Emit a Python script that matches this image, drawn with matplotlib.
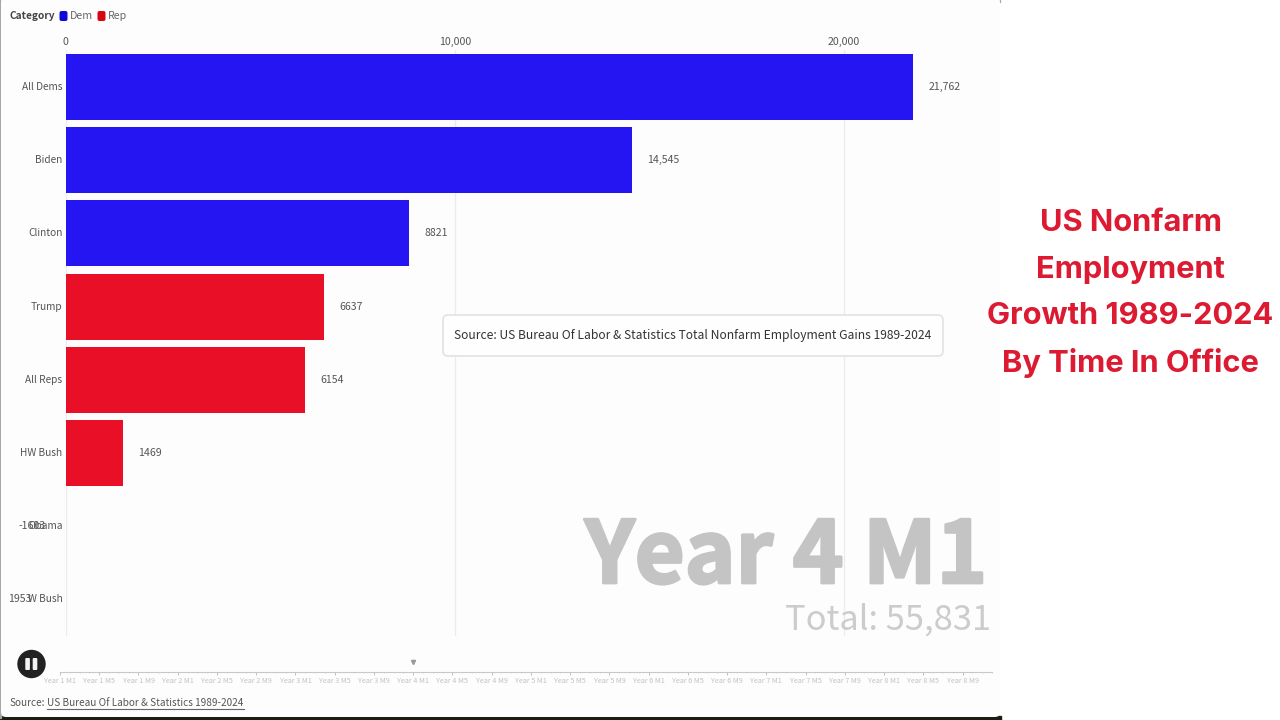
# -*- coding: utf-8 -*-

import matplotlib
matplotlib.use("Agg")
import matplotlib.pyplot as plt
import matplotlib.patheffects as pe
from matplotlib.patches import Rectangle, FancyBboxPatch, Circle
from matplotlib.transforms import ScaledTranslation

W, H = 1280, 720
plt.rcParams['font.family'] = ['Noto Sans CJK SC', 'DejaVu Sans']

names = ["All Dems", "Biden", "Clinton", "Trump", "All Reps", "HW Bush", "Obama", "W Bush"]
values = [21762, 14545, 8821, 6637, 6154, 1469, -1603, -1953]
value_labels = ["21,762", "14,545", "8821", "6637", "6154", "1469", "-1603", "1953"]
parties = ["Dem", "Dem", "Dem", "Rep", "Rep", "Rep", "Dem", "Rep"]
party_colors = {"Dem": "#2415f2", "Rep": "#e80f27"}
x_ticks = [0, 10000, 20000]
x_tick_labels = ["0", "10,000", "20,000"]

months = 96
current_month = 36
slider_labels = ["Year %d M%d" % (y, m) for y in range(1, 9) for m in (1, 5, 9)]

title_lines = ["US Nonfarm", "Employment", "Growth 1989-2024", "By Time In Office"]
title_y = [223, 270, 316, 363]


def px_axes(x0, y0, x1, y1, **kw):
    # axes placed by pixel box, y measured from the top
    return fig.add_axes([x0 / W, 1 - y1 / H, (x1 - x0) / W, (y1 - y0) / H], **kw)


fig = plt.figure(figsize=(W / 100, H / 100), dpi=100, facecolor="white")

# page furniture in pixel coordinates
bg = px_axes(0, 0, W, H, zorder=0)
bg.set_xlim(0, W)
bg.set_ylim(H, 0)
bg.axis("off")
bg.add_patch(Rectangle((0, 716), 1001, 4, color="#1c1c14"))
bg.add_patch(Rectangle((0, 0), 1000, 2, color="#a8a8a8"))
bg.add_patch(Rectangle((0, 0), 1.2, 718, color="#a4a8a2"))
bg.add_patch(FancyBboxPatch((5, 1), 991, 712, boxstyle="round,pad=4,rounding_size=5",
                            fc="#fdfdfd", ec="none"))

# bars
ax = px_axes(65.5, 50, 1000, 636, zorder=1)
ax.patch.set_alpha(0)
scale = 0.03893  # px per unit
ax.set_xlim(0, (1000 - 65.5) / scale)
ax.set_ylim(7.5, -0.505)
ypos = list(range(len(names)))
ax.barh(ypos, values, height=0.9, color=[party_colors[p] for p in parties], zorder=2)
for i, v in enumerate(values):
    if v >= 0:
        ax.annotate(value_labels[i], (v, i), xytext=(15.5, 0), textcoords="offset pixels",
                    ha="left", va="center", fontsize=7.6, color="#555555", annotation_clip=False)
    else:
        ax.annotate(value_labels[i], (v, i), xytext=(42.5, 0), textcoords="offset pixels",
                    ha="right", va="center", fontsize=7.6, color="#555555", annotation_clip=False)

for s in ax.spines.values():
    s.set_visible(False)
ax.xaxis.tick_top()
ax.set_xticks(x_ticks)
ax.set_xticklabels(x_tick_labels, fontsize=7.6, color="#555555")
ax.set_yticks(ypos)
ax.set_yticklabels(names, fontsize=7.3, color="#555555", va="center_baseline")
ax.tick_params(axis="both", length=0)
ax.tick_params(axis="x", pad=2)
ax.tick_params(axis="y", pad=2.2)
# nudge the row names up a pixel
nudge = ScaledTranslation(0, 1 / 100, fig.dpi_scale_trans)
for lab in ax.get_yticklabels():
    lab.set_transform(lab.get_transform() + nudge)
ax.grid(axis="x", color="#ececec", lw=0.9)
ax.set_axisbelow(True)

# time slider
tl = px_axes(60, 660, 992, 672, zorder=1)
tl.patch.set_alpha(0)
tl.set_xlim(0, months - 1)
tl.set_ylim(0, 1)
tl.set_yticks([])
for k in ("left", "right", "top"):
    tl.spines[k].set_visible(False)
tl.spines["bottom"].set_color("#c8c8c8")
tl.spines["bottom"].set_linewidth(0.8)
tl.set_xticks(list(range(0, months, 4)))
tl.set_xticklabels(slider_labels, fontsize=5.2, color="#c2c2c2")
tl.set_xticks(list(range(months)), minor=True)
tl.tick_params(axis="x", which="major", length=2.2, width=0.7, color="#c0c0c0", pad=1.4)
tl.tick_params(axis="x", which="minor", length=1, width=0.5, color="#d4d4d4")
tl.plot([current_month], [0.86], marker="v", ms=3, color="#999999", clip_on=False)

# overlays
ov = px_axes(0, 0, W, H, zorder=3)
ov.set_xlim(0, W)
ov.set_ylim(H, 0)
ov.axis("off")

big = ov.text(987, 583, "Year 4 M1", ha="right", va="baseline", fontsize=62, fontweight="bold",
              color="#c4c4c4")
big.set_path_effects([pe.withStroke(linewidth=2, foreground="#c4c4c4")])
ov.text(991, 630, "Total: 55,831", ha="right", va="baseline", fontsize=24.8, fontweight="light",
        color="#cccccc")

ov.add_patch(FancyBboxPatch((447, 319), 492, 33, boxstyle="round,pad=4,rounding_size=5",
                            fc="#fefefe", ec="#e2e2e2", lw=1.2))
ov.text(693, 335.5, "Source: US Bureau Of Labor & Statistics Total Nonfarm Employment Gains 1989-2024",
        ha="center", va="center", fontsize=8.7, color="#333333")

# legend
ov.text(9, 16, "Category", ha="left", va="center", fontsize=7.3, fontweight="bold", color="#444444")
ov.add_patch(FancyBboxPatch((60.5, 12), 6, 8, boxstyle="round,pad=1,rounding_size=2",
                            fc="#1008d8", ec="none"))
ov.text(70, 16, "Dem", ha="left", va="center", fontsize=7.6, color="#666666")
ov.add_patch(FancyBboxPatch((98.5, 12), 6, 8, boxstyle="round,pad=1,rounding_size=2",
                            fc="#d80612", ec="none"))
ov.text(108, 16, "Rep", ha="left", va="center", fontsize=7.6, color="#666666")

# pause button
ov.add_patch(Circle((31.5, 664), 14.2, fc="#222222", ec="none"))
ov.add_patch(FancyBboxPatch((25.8, 658.5), 3.6, 11, boxstyle="round,pad=0.5,rounding_size=1", fc="#f4f4f4", ec="none"))
ov.add_patch(FancyBboxPatch((33.2, 658.5), 3.6, 11, boxstyle="round,pad=0.5,rounding_size=1", fc="#f4f4f4", ec="none"))

# source line
ov.text(9, 703, "Source:", ha="left", va="center", fontsize=7.2, color="#555555")
ov.text(47, 703, "US Bureau Of Labor & Statistics 1989-2024", ha="left", va="center",
        fontsize=7.2, color="#555555")
ov.plot([47, 244], [708.5, 708.5], color="#666666", lw=0.8)

# side title
for line, y in zip(title_lines, title_y):
    ov.text(1130.5, y, line, ha="center", va="center", fontsize=22.2, fontweight="bold",
            family="Inter", color="#dc1a32")

fig.savefig("out.png", dpi=100)
